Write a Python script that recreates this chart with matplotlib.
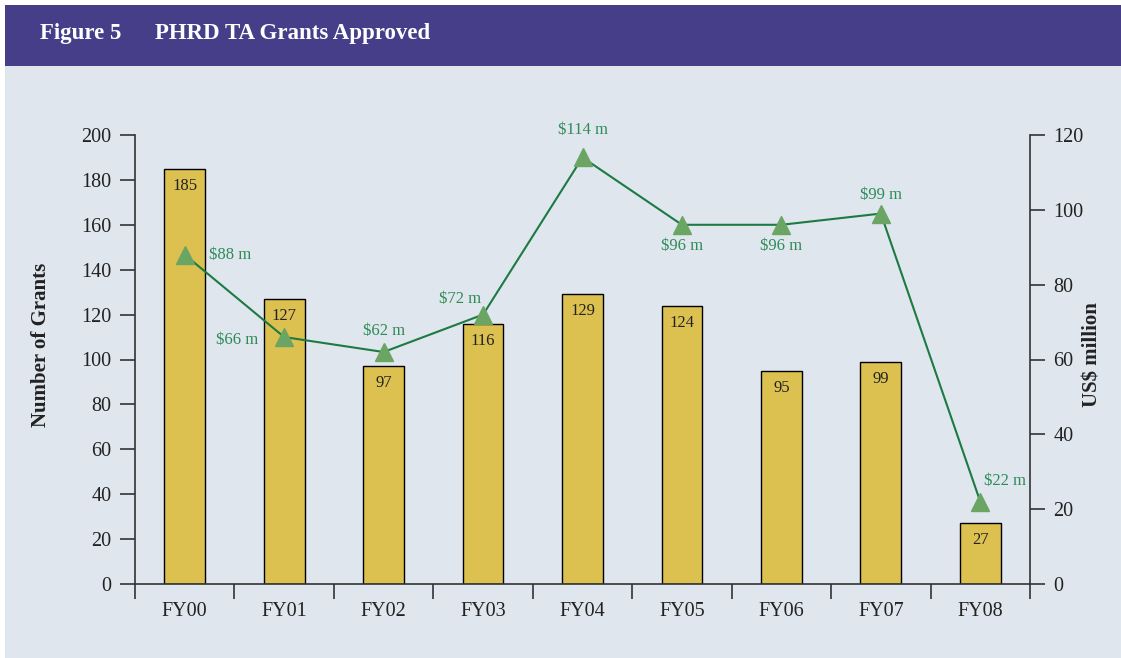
import matplotlib
matplotlib.use('Agg')
import matplotlib.pyplot as plt
from matplotlib.patches import Rectangle

anni = ['FY00', 'FY01', 'FY02', 'FY03', 'FY04', 'FY05', 'FY06', 'FY07', 'FY08']
num_grants = [185, 127, 97, 116, 129, 124, 95, 99, 27]
milioni = [88, 66, 62, 72, 114, 96, 96, 99, 22]

# spostamento (pixel) delle etichette della linea rispetto al marker, e allineamento
offset_etichette = [(24, 0, 'left'), (-26, -3, 'right'), (0, 21, 'center'), (-23, 16, 'center'),
                    (0, 27, 'center'), (0, -21, 'center'), (0, -21, 'center'), (0, 19, 'center'),
                    (4, 21, 'left')]

col_sfondo = '#dfe6ee'
col_header = '#463e89'
col_barre = '#dcc150'
col_linea = '#1c7a42'
col_marker = '#6aa564'
col_testo_verde = '#2e8b57'

plt.rcParams['font.family'] = ['Liberation Serif', 'DejaVu Serif']

W, H = 1121, 658
fig = plt.figure(figsize=(W / 100, H / 100), dpi=100, facecolor='white')

# pannello azzurrino + header viola (sotto gli assi)
fig.add_artist(Rectangle((5 / W, 0), 1 - 5 / W, 1 - 5 / H, transform=fig.transFigure,
                         facecolor=col_sfondo, edgecolor='none', zorder=-10))
fig.add_artist(Rectangle((5 / W, 1 - 66 / H), 1 - 5 / W, 61 / H, transform=fig.transFigure,
                         facecolor=col_header, edgecolor='none', zorder=-9))
fig.text(40 / W, 1 - 34 / H, 'Figure 5', color='white', fontsize=16.5, fontweight='bold', va='center')
fig.text(155 / W, 1 - 34 / H, 'PHRD TA Grants Approved', color='white', fontsize=16.5,
         fontweight='bold', va='center')

ax = fig.add_axes([135 / W, 74 / H, 895 / W, 449 / H])
ax.patch.set_alpha(0)
x = range(len(anni))

barre = ax.bar(x, num_grants, width=0.41, color=col_barre, edgecolor='black', linewidth=1, zorder=2)
for xi, v in zip(x, num_grants):
    ax.text(xi, v - 4, str(v), ha='center', va='top', fontsize=12, color='#222222', zorder=3)

ax.set_xlim(-0.5, len(anni) - 0.5)
ax.set_ylim(0, 200)
ax.set_yticks(range(0, 201, 20))
ax.set_xticks([i + 0.5 for i in range(-1, len(anni))], minor=False)
ax.set_xticklabels([])
ax.set_xticks(list(x), minor=True)
ax.set_xticklabels(anni, minor=True)
ax.tick_params(axis='x', which='major', direction='out', length=11, width=1.2, color='#333333')
ax.tick_params(axis='x', which='minor', length=0, pad=13, labelsize=14.5, labelcolor='#222222')
ax.tick_params(axis='y', direction='out', length=11, width=1.2, color='#333333', labelsize=14.5,
               pad=6, labelcolor='#222222')
for s in ['top', 'right']:
    ax.spines[s].set_visible(False)
for s in ['left', 'bottom']:
    ax.spines[s].set_linewidth(1.2)
    ax.spines[s].set_color('#333333')
ax.set_ylabel('Number of Grants', fontsize=15, fontweight='bold', color='#222222')
ax.yaxis.set_label_coords(-0.094, 0.532)

ax2 = ax.twinx()
ax2.set_ylim(0, 120)
ax2.set_yticks(range(0, 121, 20))
ax2.tick_params(axis='y', direction='out', length=11, width=1.2, color='#333333', labelsize=14.5,
                pad=6, labelcolor='#222222')
for s in ['top', 'left', 'bottom']:
    ax2.spines[s].set_visible(False)
ax2.spines['right'].set_linewidth(1.2)
ax2.spines['right'].set_color('#333333')
ax2.set_ylabel('US$ million', fontsize=15, fontweight='bold', color='#222222')
ax2.yaxis.set_label_coords(1.059, 0.512)

ax2.plot(x, milioni, color=col_linea, linewidth=1.5, zorder=3)
ax2.plot(x, milioni, linestyle='none', marker='^', markersize=13, color=col_marker, zorder=4)

for xi, v, (dx, dy, ha) in zip(x, milioni, offset_etichette):
    ax2.annotate(f'${v} m', (xi, v), xytext=(dx, dy), textcoords='offset pixels', ha=ha,
                 va='center', fontsize=12, color=col_testo_verde)

fig.savefig('out.png', dpi=100, facecolor=fig.get_facecolor())
